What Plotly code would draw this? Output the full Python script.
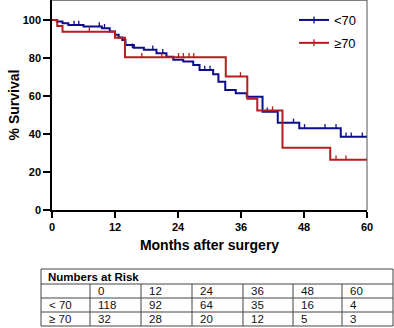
import plotly.graph_objects as go

# Kaplan-Meier estimates: step times (months) and survival (%) after each step
lt70_t = [0, 0.9, 2.0, 3.1, 6.0, 9.5, 11.0, 12.0, 12.7, 13.4, 14.0, 15.6, 17.5, 19.9,
          21.8, 23.1, 25.0, 26.9, 28.1, 30.7, 31.7, 33.0, 35.0, 37.1, 40.1, 43.0,
          47.1, 55.0, 60.0]
lt70_s = [100, 99.2, 98.3, 97.4, 96.6, 95.7, 94.0, 92.3, 90.8, 89.5, 86.8, 85.4, 84.4,
          82.5, 80.7, 79.1, 78.2, 76.3, 73.7, 71.4, 67.5, 63.2, 61.4, 59.6, 51.7, 45.9,
          43.0, 38.6, 38.6]

ge70_t = [0, 1.0, 2.0, 12.0, 13.9, 33.1, 37.2, 39.1, 43.9, 53.0, 60.0]
ge70_s = [100, 96.9, 93.8, 90.6, 80.4, 70.3, 58.6, 52.4, 32.8, 26.5, 26.5]

# Censored observations
lt70_cens_t = [4.2, 5.1, 9.0, 10.0, 15.3, 19.2, 21.1, 29.1, 30.1, 41.0, 46.0, 48.1,
               52.0, 54.1, 56.0, 57.0, 59.1]
lt70_cens_s = [97.4, 97.4, 96.6, 95.7, 85.4, 84.4, 82.5, 73.7, 73.7, 51.7, 45.9, 43.0,
               43.0, 43.0, 38.6, 38.6, 38.6]
ge70_cens_t = [7.1, 17.1, 20.9, 24.1, 25.0, 26.1, 27.0, 35.9, 42.0, 54.1, 56.0]
ge70_cens_s = [93.8, 80.4, 80.4, 80.4, 80.4, 80.4, 80.4, 70.3, 52.4, 26.5, 26.5]

# Numbers at risk
risk_times = [0, 12, 24, 36, 48, 60]
risk_lt70 = [118, 92, 64, 35, 16, 4]
risk_ge70 = [32, 28, 20, 12, 5, 3]

BLUE = "#0d0d8c"
RED = "#b41e1e"
FONT = "Liberation Sans, Arial, sans-serif"

W, H = 394, 328
ML, MR, MT, MB = 52, 27, 0, 118
PW, PH = W - ML - MR, H - MT - MB


def px_x(px):
    return (px - ML) / PW


def px_y(py):
    return (H - MB - py) / PH


fig = go.Figure()

for t, s, ct, cs, col in [
    (lt70_t, lt70_s, lt70_cens_t, lt70_cens_s, BLUE),
    (ge70_t, ge70_s, ge70_cens_t, ge70_cens_s, RED),
]:
    fig.add_trace(go.Scatter(x=t, y=s, mode="lines", line=dict(color=col, width=2, shape="hv"),
                             showlegend=False, hoverinfo="skip"))
    fig.add_trace(go.Scatter(x=ct, y=cs, mode="markers", marker=dict(size=1, color=col),
                             error_y=dict(type="data", symmetric=False, array=[2.2] * len(ct),
                                          arrayminus=[0] * len(ct), width=0, thickness=1.3,
                                          color=col),
                             showlegend=False, hoverinfo="skip"))

fig.add_trace(go.Scatter(x=[None], y=[None], mode="lines+markers", name="&lt;70",
                         line=dict(color=BLUE, width=2),
                         marker=dict(symbol="line-ns-open", size=5, color=BLUE,
                                     line=dict(color=BLUE, width=1.3)),
                         legendgroup="a"))
fig.add_trace(go.Scatter(x=[None], y=[None], mode="lines+markers", name="≥70",
                         line=dict(color=RED, width=2),
                         marker=dict(symbol="line-ns-open", size=5, color=RED,
                                     line=dict(color=RED, width=1.3)),
                         legendgroup="b"))

fig.update_layout(
    width=W, height=H,
    margin=dict(l=ML, r=MR, t=MT, b=MB, pad=0),
    paper_bgcolor="white", plot_bgcolor="white",
    font=dict(family=FONT, color="black"),
    legend=dict(x=px_x(294), y=px_y(5), xanchor="left", yanchor="top",
                font=dict(size=13, family=FONT), bgcolor="rgba(0,0,0,0)",
                traceorder="grouped", tracegroupgap=3, itemwidth=30),
    xaxis=dict(range=[0, 60], tickvals=risk_times, ticks="outside", ticklen=6, tickwidth=1.5,
               tickcolor="black", showline=True, linecolor="black", linewidth=1.5,
               showgrid=False, zeroline=False,
               tickfont=dict(size=11, family=FONT, weight="bold"),
               title=dict(text="<b>Months after surgery</b>", font=dict(size=14, family=FONT),
                          standoff=8)),
    yaxis=dict(range=[0, PH / 1.9], tickvals=[0, 20, 40, 60, 80, 100], ticks="outside",
               ticklen=7, tickwidth=1.5, tickcolor="black", showline=True, linecolor="black",
               linewidth=1.5, showgrid=False, zeroline=False,
               tickfont=dict(size=11, family=FONT, weight="bold"),
               title=dict(text="<b>% Survival</b>", font=dict(size=14, family=FONT),
                          standoff=0)),
)

# top and right frame of the plot
fig.add_shape(type="line", xref="paper", yref="paper", x0=0, x1=1, y0=1, y1=1,
              line=dict(color="black", width=1.2))
fig.add_shape(type="line", xref="paper", yref="paper", x0=1, x1=1, y0=0, y1=1,
              line=dict(color="#555555", width=1))

# numbers-at-risk table
col_edges = [41, 90, 141, 192, 243, 293, 342, 393]
row_edges = [269, 284, 298, 312, 326]
GRID = "#444444"

for yy in row_edges:
    fig.add_shape(type="line", xref="paper", yref="paper", x0=px_x(col_edges[0]),
                  x1=px_x(col_edges[-1]), y0=px_y(yy), y1=px_y(yy),
                  line=dict(color=GRID, width=1))
for i, xx in enumerate(col_edges):
    top = row_edges[0] if i in (0, len(col_edges) - 1) else row_edges[1]
    fig.add_shape(type="line", xref="paper", yref="paper", x0=px_x(xx), x1=px_x(xx),
                  y0=px_y(top), y1=px_y(row_edges[-1]), line=dict(color=GRID, width=1))

fig.add_annotation(xref="paper", yref="paper", x=px_x(col_edges[0] + 5),
                   y=px_y((row_edges[0] + row_edges[1]) / 2), text="<b>Numbers at Risk</b>",
                   showarrow=False, xanchor="left", yanchor="middle",
                   font=dict(size=11.5, family=FONT, color="black"))

rows = [[""] + [str(v) for v in risk_times],
        ["&lt; 70"] + [str(v) for v in risk_lt70],
        ["≥ 70"] + [str(v) for v in risk_ge70]]
for r, cells in enumerate(rows):
    yc = (row_edges[r + 1] + row_edges[r + 2]) / 2
    for c, txt in enumerate(cells):
        if not txt:
            continue
        fig.add_annotation(xref="paper", yref="paper", x=px_x(col_edges[c] + 6), y=px_y(yc),
                           text=txt, showarrow=False, xanchor="left", yanchor="middle",
                           font=dict(size=11.5, family=FONT, color="#111111"))

fig.write_html("out.html")
